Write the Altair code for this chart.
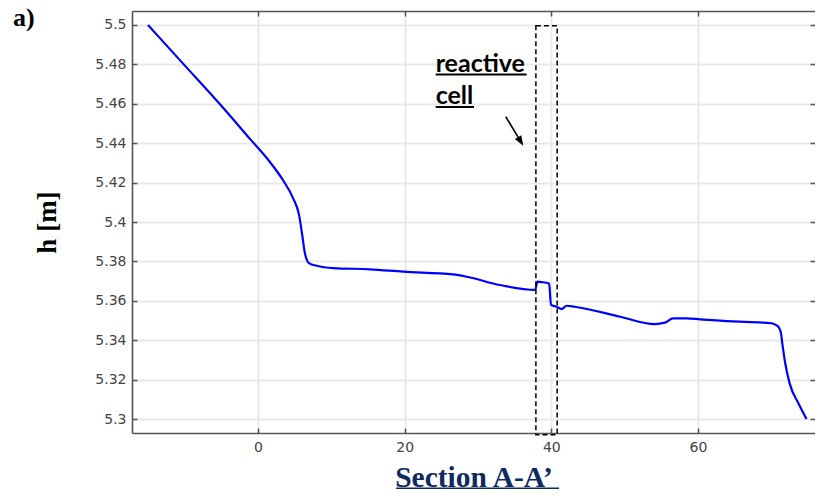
import altair as alt
import pandas as pd

# ---- data ----
x_pos = [-15.0, -10.0, -5.0, -1.0, 1.6, 3.4, 4.8, 5.6, 6.0, 6.4, 7.0, 8.0,
         10.3, 15.3, 19.8, 26.6, 28.5, 33.0, 37.8, 38.1, 38.7, 39.7, 39.96,
         40.7, 41.4, 42.1, 43.2, 49.4, 54.1, 55.5, 56.6, 58.5, 60.3, 65.7,
         70.0, 70.6, 71.0, 71.3, 71.5, 71.9, 72.5, 73.7, 74.8]
h_vals = [5.5, 5.4795, 5.459, 5.4418, 5.4306, 5.4213, 5.412, 5.4036, 5.3943,
          5.3841, 5.379, 5.3778, 5.3766, 5.376, 5.3748, 5.3734, 5.3722, 5.368,
          5.3655, 5.3697, 5.3695, 5.3688, 5.3579, 5.357, 5.3558, 5.3575, 5.357,
          5.3519, 5.3482, 5.3489, 5.3511, 5.3511, 5.3506, 5.3494, 5.3486,
          5.3478, 5.3466, 5.3440, 5.3384, 5.3283, 5.3181, 5.308, 5.3]

x_ticks = [0, 20, 40, 60]
y_ticks = [5.3, 5.32, 5.34, 5.36, 5.38, 5.4, 5.42, 5.44, 5.46, 5.48, 5.5]

x_domain = [-17.18, 75.96]
y_domain = [5.2929, 5.5071]

# reactive cell box
box_x = [37.9]
box_x2 = [40.8]
box_y = [5.4996]
box_y2 = [5.292]

# annotation text
note_text = ["reactive", "cell"]
note_x = [24.23, 24.23]
note_y = [5.4763, 5.4597]
under_x2 = [36.64, 29.46]
under_y = [5.4749, 5.4584]

# arrow
arrow_x = [33.78]
arrow_y = [5.4535]
arrow_x2 = [35.47]
arrow_y2 = [5.4431]

W, H = 683, 422

xs = alt.Scale(domain=x_domain, nice=False, zero=False)
ys = alt.Scale(domain=y_domain, nice=False, zero=False)

grid_color = "#e9e9e9"
frame_color = "#555555"

main_x_axis = alt.Axis(orient="bottom", values=x_ticks, format="d", ticks=False, tickSize=0,
                       domain=True, domainColor=frame_color, domainWidth=1.6,
                       grid=True, gridColor=grid_color, gridWidth=2,
                       labelFont="DejaVu Sans", labelFontSize=14, labelColor="#444444",
                       labelPadding=7,
                       title="Section A-A\u2019", titleFont="Liberation Serif", titleFontSize=29.5,
                       titleFontWeight="bold", titleColor="#102a5e", titleY=53,
                       titleBaseline="alphabetic")
main_y_axis = alt.Axis(orient="left", values=y_ticks, format=".2~f", ticks=False, tickSize=0,
                       domain=True, domainColor=frame_color, domainWidth=1.6,
                       grid=True, gridColor=grid_color, gridWidth=2,
                       labelFont="DejaVu Sans", labelFontSize=14, labelColor="#444444",
                       labelPadding=6,
                       title="h [m]", titleFont="Liberation Serif", titleFontSize=27,
                       titleFontWeight="bold", titleColor="#000000", titleAngle=-90,
                       titleX=-77, titleY=211, titleBaseline="alphabetic", titleAlign="center")
top_frame_axis = alt.Axis(orient="top", ticks=False, labels=False, domain=True,
                          domainColor=frame_color, domainWidth=1.6, grid=False, title=None)


def tick_axis(orient, vals):
    return alt.Axis(orient=orient, values=vals, offset=-5, tickSize=5, ticks=True,
                    tickColor=frame_color, tickWidth=1.5, labels=False, domain=False,
                    grid=False, title=None)


df_line = pd.DataFrame({"x": x_pos, "h": h_vals})
line = alt.Chart(df_line).mark_line(color="#0000ff", strokeWidth=2.2,
                                    interpolate="monotone").encode(
    x=alt.X("x:Q", scale=xs, axis=main_x_axis),
    y=alt.Y("h:Q", scale=ys, axis=main_y_axis),
)

df_box = pd.DataFrame({"x": box_x, "x2": box_x2, "y": box_y, "y2": box_y2})
box = alt.Chart(df_box).mark_rect(fillOpacity=0, stroke="black", strokeWidth=1.5,
                                  strokeDash=[5, 3], clip=False).encode(
    x=alt.X("x:Q", scale=xs, axis=tick_axis("bottom", x_ticks)),
    x2="x2:Q",
    y=alt.Y("y:Q", scale=ys, axis=tick_axis("left", y_ticks)),
    y2="y2:Q",
)

df_arrow = pd.DataFrame({"x": arrow_x, "y": arrow_y, "x2": arrow_x2, "y2": arrow_y2})
arrow = alt.Chart(df_arrow).mark_rule(color="black", strokeWidth=1.6).encode(
    x=alt.X("x:Q", scale=xs, axis=tick_axis("top", x_ticks)),
    x2="x2:Q",
    y=alt.Y("y:Q", scale=ys, axis=tick_axis("right", y_ticks)),
    y2="y2:Q",
)
arrow_head = alt.Chart(df_arrow).mark_point(
    shape="M0,-2 L0.75,0 L-0.75,0 Z", filled=True, color="black", opacity=1,
    size=100, angle=148.7).encode(
    x=alt.X("x2:Q", scale=xs, axis=None),
    y=alt.Y("y2:Q", scale=ys, axis=None),
)

df_note = pd.DataFrame({"t": note_text, "x": note_x, "y": note_y,
                        "ux2": under_x2, "uy": under_y})
notes = alt.Chart(df_note).mark_text(font="Lato", fontWeight="bold", fontSize=25,
                                     align="left", baseline="alphabetic",
                                     color="black").encode(
    x=alt.X("x:Q", scale=xs, axis=None), y=alt.Y("y:Q", scale=ys, axis=None), text="t:N")
note_lines = alt.Chart(df_note).mark_rule(color="black", strokeWidth=2).encode(
    x=alt.X("x:Q", scale=xs, axis=top_frame_axis), x2="ux2:Q",
    y=alt.Y("uy:Q", scale=ys, axis=None))

df_a = pd.DataFrame({"t": ["a)"]})
panel = alt.Chart(df_a).mark_text(font="Liberation Serif", fontWeight="bold", fontSize=26,
                                  align="left", baseline="alphabetic", color="black").encode(
    x=alt.value(-119), y=alt.value(15), text="t:N")

title_line = alt.Chart(df_a).mark_rule(color="#102a5e", strokeWidth=2).encode(
    x=alt.value(264), x2=alt.value(427), y=alt.value(477.5))

chart = alt.layer(line, box, arrow, arrow_head, notes, note_lines, panel, title_line).resolve_axis(
    x="independent", y="independent"
).properties(
    width=W, height=H,
    autosize=alt.AutoSizeParams(type="none"),
    padding={"left": 124, "top": 3, "right": 0, "bottom": 56},
).configure_view(strokeWidth=0).configure(background="white")

chart.save("out.html", embed_options={"renderer": "svg", "actions": False})
